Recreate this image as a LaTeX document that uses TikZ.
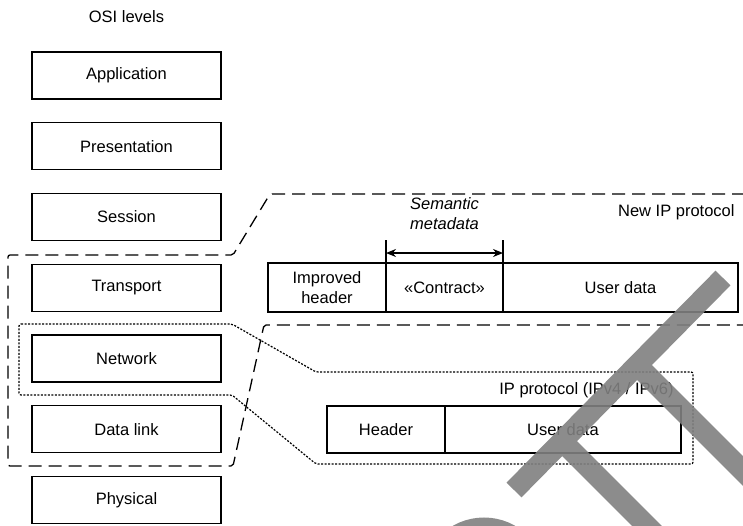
\documentclass[tikz,border=0pt]{standalone}
\usepackage{fontspec}
\setmainfont{Liberation Sans}
\usepackage{tikz}
\usetikzlibrary{arrows.meta, positioning}

\newcommand{\lblfont}{\fontsize{8.25pt}{10pt}\selectfont}

\begin{document}
\begin{tikzpicture}[
  x=0.5pt, y=-0.5pt,
  node distance=11.875pt,
  level/.style={rectangle, draw, line width=0.65pt, minimum width=94.5pt, minimum height=23.5pt, inner sep=0pt, outer sep=0pt, font=\lblfont},
  cell/.style={rectangle, draw, line width=1pt, inner sep=0pt, outer sep=0pt, align=center, font=\lblfont},
  lbl/.style={inner sep=0pt, font=\lblfont},
  arrow/.style={{Stealth[length=5pt,width=4pt]}-{Stealth[length=5pt,width=4pt]}, line width=0.6pt},
  newbox/.style={line width=0.65pt, dash pattern=on 6.5pt off 3.5pt, rounded corners=1pt},
  oldbox/.style={line width=0.6pt, dash pattern=on 1pt off 0.75pt, rounded corners=1pt},
  stamp/.style={line width=10.5pt, draw=black!50, draw opacity=0.9}
]
\useasboundingbox (0,0) rectangle (743,525);

% OSI stack
\node[lbl] (title) at (126.5,17) {OSI levels};
\node[level] (app) at (126.5,75.5) {Application};
\node[level, below=of app] (pres) {Presentation};
\node[level, below=of pres] (sess) {Session};
\node[level, below=of sess] (trans) {Transport};
\node[level, below=of trans] (net) {Network};
\node[level, below=of net] (link) {Data link};
\node[level, below=of link] (phys) {Physical};

% new IP packet
\node[cell, minimum width=59pt, minimum height=24.5pt] (imph) at (327,287.5) {Improved\\header};
\node[cell, minimum width=58.5pt, minimum height=24.5pt, right=0pt of imph] (contract) {«Contract»};
\node[cell, minimum width=117.5pt, minimum height=24.5pt, right=0pt of contract] (newdata) {User data};
\node[lbl, anchor=east] (newip) at (735,212) {New IP protocol};
\node[lbl, align=center, font=\lblfont\itshape] (sem) at (444.5,214) {Semantic\\metadata};

\draw[line width=0.6pt] (contract.north west) -- ++(0,-23);
\draw[line width=0.6pt] (contract.north east) -- ++(0,-23);
\draw[arrow] ([yshift=5pt]contract.north west) -- ([yshift=5pt]contract.north east);

% old IP packet
\node[cell, minimum width=59pt, minimum height=23.5pt] (head) at (386,429.5) {Header};
\node[cell, minimum width=118pt, minimum height=23.5pt, right=0pt of head] (olddata) {User data};
\node[lbl, anchor=east] (oldip) at (674,390) {IP protocol (IPv4 / IPv6)};

% outlines
\draw[newbox] (745,194) -- (270,194) -- (233,255) -- (8,255) -- (8,466) -- (233,466) -- (264,325) -- (745,325);
\draw[oldbox] (19,324) -- (232,324) -- (316,372) -- (693,372) -- (693,464) -- (316,464) -- (232,395) -- (19,395) -- cycle;

% stamp
\begin{scope}
\clip (0,0) rectangle (743,525);
\draw[stamp] (723,278) -- (514,490) (637,365) -- (780,508) (562,441) -- (700,579) (484,580) circle[radius=52];
\end{scope}
\end{tikzpicture}
\end{document}
